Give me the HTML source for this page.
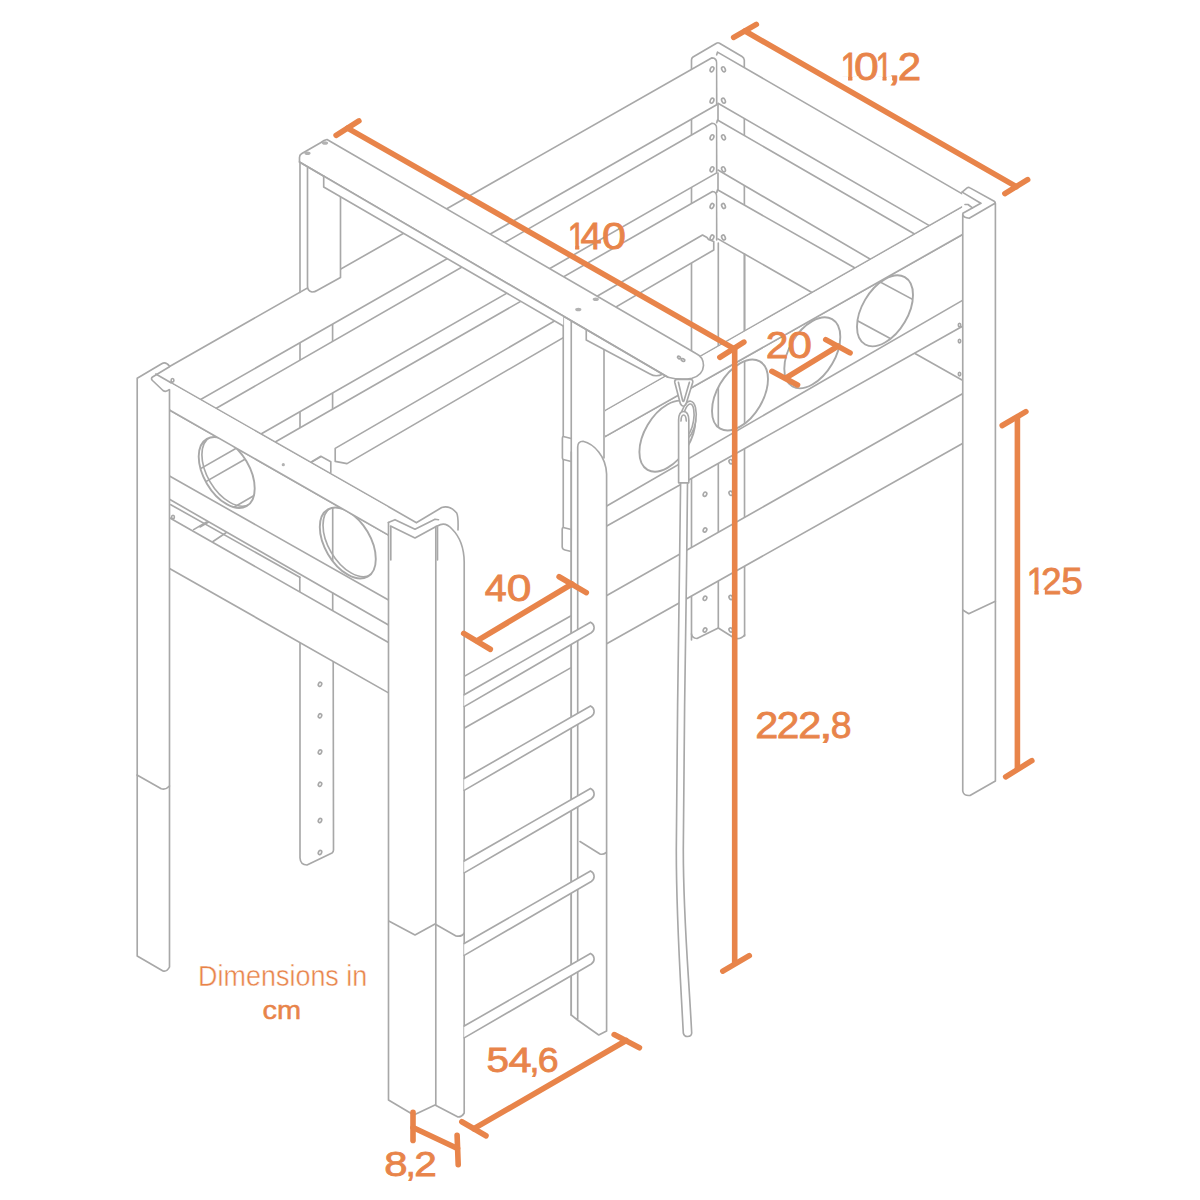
<!DOCTYPE html>
<html><head><meta charset="utf-8"><title>Dimensions</title>
<style>
html,body{margin:0;padding:0;background:#fff;}
body{width:1200px;height:1200px;overflow:hidden;font-family:"Liberation Sans",sans-serif;}
svg{display:block}
.g path,.g circle,.g ellipse{stroke:#a8a8a8;stroke-width:1.65;stroke-linecap:round;stroke-linejoin:round}
.g path:not([fill]),.g circle:not([fill]),.g ellipse:not([fill]){fill:none}
.o path{stroke:#e8844a;stroke-width:5.6;stroke-linecap:round;fill:none}
.t text{fill:#e8844a;font-family:"Liberation Sans",sans-serif;}
</style></head><body>
<svg width="1200" height="1200" viewBox="0 0 1200 1200">
<rect width="1200" height="1200" fill="#fff"/>
<g class="g">
<path d="M691.5 640L691.5 60Q691.5 58 693 57L716.5 43.2Q718 42.3 719.5 43.2L742 56.5Q744 57.7 744.3 60L744.6 636" fill="#fff"/>
<path d="M718 104L718 121"/>
<path d="M718 173L718 192"/>
<path d="M718.3 463.38L718.3 628"/>
<path d="M691.5 634Q692 638 697 638.5L718.3 628L735 638.5Q741 639.5 744.6 635"/>
<ellipse cx="705" cy="494.2" rx="1.7" ry="2.2" transform="rotate(25 705 494.2)" stroke-width="1.1"/>
<ellipse cx="705" cy="530" rx="1.7" ry="2.2" transform="rotate(25 705 530)" stroke-width="1.1"/>
<ellipse cx="705" cy="598.3" rx="1.7" ry="2.2" transform="rotate(25 705 598.3)" stroke-width="1.1"/>
<ellipse cx="705" cy="630" rx="1.7" ry="2.2" transform="rotate(25 705 630)" stroke-width="1.1"/>
<ellipse cx="730.8" cy="461.7" rx="1.7" ry="2.2" transform="rotate(-25 730.8 461.7)" stroke-width="1.1"/>
<ellipse cx="730.8" cy="493.3" rx="1.7" ry="2.2" transform="rotate(-25 730.8 493.3)" stroke-width="1.1"/>
<ellipse cx="730.8" cy="597.5" rx="1.7" ry="2.2" transform="rotate(-25 730.8 597.5)" stroke-width="1.1"/>
<ellipse cx="730.8" cy="630" rx="1.7" ry="2.2" transform="rotate(-25 730.8 630)" stroke-width="1.1"/>
<path d="M300 642.57L300 858Q300.5 865 307 865L332 853Q333.5 852 333.5 850L333.2 661.43" fill="#fff"/>
<path d="M300 342.72L300 360.19"/>
<path d="M332.6 324.11L332.6 341.44"/>
<path d="M300 411.66L300 427.73"/>
<path d="M332.6 392.98L332.6 409.06"/>
<ellipse cx="320" cy="684.3" rx="1.6" ry="2.1" transform="rotate(25 320 684.3)" stroke-width="1.1"/>
<ellipse cx="320" cy="715.8" rx="1.6" ry="2.1" transform="rotate(25 320 715.8)" stroke-width="1.1"/>
<ellipse cx="320" cy="752" rx="1.6" ry="2.1" transform="rotate(25 320 752)" stroke-width="1.1"/>
<ellipse cx="320" cy="784.3" rx="1.6" ry="2.1" transform="rotate(25 320 784.3)" stroke-width="1.1"/>
<ellipse cx="320" cy="820.5" rx="1.6" ry="2.1" transform="rotate(25 320 820.5)" stroke-width="1.1"/>
<ellipse cx="320" cy="852.5" rx="1.6" ry="2.1" transform="rotate(25 320 852.5)" stroke-width="1.1"/>
<path d="M170 366.22L712 57.82L716.7 61.82L716.7 104.78L170 416.95Z" style="fill:#fff;stroke:none"/>
<path d="M170 366.22L712 57.82Q716.7 58.12 716.7 62.82L716.7 104.78L170 416.95"/>
<path d="M215 409.06L712 123.3L716.7 127.3L716.7 172.89L215 460.37Z" style="fill:#fff;stroke:none"/>
<path d="M215 409.06L712 123.3Q716.7 123.6 716.7 128.3L716.7 172.89L215 460.37"/>
<path d="M270 444.91L712.5 191.5L716.7 195.5L716.7 243L270 486.28Z" style="fill:#fff;stroke:none"/>
<path d="M270 444.91L712.5 191.5Q716.7 191.8 716.7 196.5L716.7 240"/>
<path d="M335.2 448.4L702.5 235L713.75 241.5L713.75 250L347 463.6L335.2 461.4Z" style="fill:#fff;stroke:none"/>
<path d="M347 463.6L335.2 461.4L335.2 448.4L702.5 235L707 237.5L708.5 239.5L713.75 241.5L713.75 250L347 463.6"/>
<path d="M200 526.95L320.6 456.88"/>
<path d="M311.7 461.7L320.8 456.3L330.8 461.7L330.8 472.5"/>
<path d="M717.5 52.12L980.8 204.6L929.35 225.61L718 103.3Z" style="fill:#fff;stroke:none"/>
<path d="M716.7 54.83L717.5 52.12L980.8 204.6"/>
<path d="M929.35 225.61L718 103.3"/>
<path d="M717.5 120.01L914.57 234.04L870.4 259.23L718 170.08Z" style="fill:#fff;stroke:none"/>
<path d="M716.7 122.72L717.5 120.01L914.57 234.04"/>
<path d="M870.4 259.23L718 170.08"/>
<path d="M717.5 189.83L855.05 267.98L811.98 292.55L718 238.86Z" style="fill:#fff;stroke:none"/>
<path d="M716.7 192.55L717.5 189.83L855.05 267.98"/>
<path d="M811.98 292.55L718 238.86"/>
<path d="M744.6 254.05L744.6 330.98"/>
<path d="M718.3 243L718.3 346"/>
<ellipse cx="712" cy="69.3" rx="1.7" ry="2.6" transform="rotate(25 712 69.3)" stroke-width="1.1"/>
<ellipse cx="723.5" cy="69.3" rx="1.7" ry="2.6" transform="rotate(-25 723.5 69.3)" stroke-width="1.1"/>
<ellipse cx="712" cy="100.7" rx="1.7" ry="2.6" transform="rotate(25 712 100.7)" stroke-width="1.1"/>
<ellipse cx="723.5" cy="100.7" rx="1.7" ry="2.6" transform="rotate(-25 723.5 100.7)" stroke-width="1.1"/>
<ellipse cx="712" cy="137.3" rx="1.7" ry="2.6" transform="rotate(25 712 137.3)" stroke-width="1.1"/>
<ellipse cx="723.5" cy="137.3" rx="1.7" ry="2.6" transform="rotate(-25 723.5 137.3)" stroke-width="1.1"/>
<ellipse cx="712" cy="169.3" rx="1.7" ry="2.6" transform="rotate(25 712 169.3)" stroke-width="1.1"/>
<ellipse cx="723.5" cy="169.3" rx="1.7" ry="2.6" transform="rotate(-25 723.5 169.3)" stroke-width="1.1"/>
<ellipse cx="712" cy="206" rx="1.7" ry="2.6" transform="rotate(25 712 206)" stroke-width="1.1"/>
<ellipse cx="723.5" cy="206" rx="1.7" ry="2.6" transform="rotate(-25 723.5 206)" stroke-width="1.1"/>
<ellipse cx="712" cy="237.5" rx="1.7" ry="2.6" transform="rotate(25 712 237.5)" stroke-width="1.1"/>
<ellipse cx="723.5" cy="237.5" rx="1.7" ry="2.6" transform="rotate(-25 723.5 237.5)" stroke-width="1.1"/>
<path d="M915 353.5L962 380"/>
<path d="M300 292.5L300 160L307.5 166L307.5 286Q307.5 291 312 292Q315 292 317 290.5L340.5 277.5L340.5 197" fill="#fff"/>
<path d="M463.75 676.63L962.5 393.84L962.5 443.59L463.75 724.14Z" style="fill:#fff;stroke:none"/>
<path d="M463.75 676.63L962.5 393.84"/>
<path d="M600 647.5L962.5 443.59"/>
<path d="M463.75 728.53L572 667.12"/>
<path d="M605 410.6L965 205.27L962.5 326.25L605 527Z" style="fill:#fff;stroke:none"/>
<path d="M605 410.6L965 205.27"/>
<path d="M605 436.6L962.5 234.55"/>
<path d="M605 507L962.5 300.34"/>
<path d="M605 527L962.5 326.25"/>
<clipPath id="c1"><circle r="1" transform="matrix(28 -15.9 0 31.7 667.4 436.2)"/></clipPath>
<circle r="1" transform="matrix(28 -15.9 0 31.7 667.4 436.2)" style="fill:#fff;stroke:none"/>
<g clip-path="url(#c1)">
</g>
<circle r="1" transform="matrix(28 -15.9 0 31.7 667.4 436.2)" vector-effect="non-scaling-stroke" style="stroke-width:1.9"/>
<clipPath id="c2"><circle r="1" transform="matrix(28 -15.9 0 31.7 740 395)"/></clipPath>
<circle r="1" transform="matrix(28 -15.9 0 31.7 740 395)" style="fill:#fff;stroke:none"/>
<g clip-path="url(#c2)">
<path d="M718.3 330L718.3 470"/>
<path d="M744.6 330L744.6 470"/>
</g>
<circle r="1" transform="matrix(28 -15.9 0 31.7 740 395)" vector-effect="non-scaling-stroke" style="stroke-width:1.9"/>
<clipPath id="c3"><circle r="1" transform="matrix(28 -15.9 0 31.7 812.3 352.8)"/></clipPath>
<circle r="1" transform="matrix(28 -15.9 0 31.7 812.3 352.8)" style="fill:#fff;stroke:none"/>
<g clip-path="url(#c3)">
</g>
<circle r="1" transform="matrix(28 -15.9 0 31.7 812.3 352.8)" vector-effect="non-scaling-stroke" style="stroke-width:1.9"/>
<clipPath id="c4"><circle r="1" transform="matrix(28 -15.9 0 31.7 885 310.8)"/></clipPath>
<circle r="1" transform="matrix(28 -15.9 0 31.7 885 310.8)" style="fill:#fff;stroke:none"/>
<g clip-path="url(#c4)">
<path d="M850 265.8L918 302.3"/>
<path d="M845 314L900 343.7"/>
</g>
<circle r="1" transform="matrix(28 -15.9 0 31.7 885 310.8)" vector-effect="non-scaling-stroke" style="stroke-width:1.9"/>
<path d="M606 410.93L962 207.89L962 234.83L606 436.03Z" style="fill:#fff;stroke:none"/>
<path d="M605 436.6L962.5 234.55"/>
<path d="M155.8 374L415 521.8L388.5 535.11L388.5 625L169.5 499.3L169.5 387Z" style="fill:#fff;stroke:none"/>
<path d="M155.8 374L416.5 522.66"/>
<path d="M169.5 410L388.5 535.11"/>
<path d="M169.5 476L388.5 600"/>
<path d="M169.5 499.3L388.5 625"/>
<path d="M170.8 504.7L299.8 577.3"/>
<path d="M299.8 577.3L299.8 591.95"/>
<path d="M332.7 592.97L332.7 610.7"/>
<path d="M193.6 529.6L206.6 522"/>
<path d="M213 541.5L226 532.8"/>
<path d="M169.5 517.7L388.5 642.5L388.5 692.86L169.5 568.42Z" style="fill:#fff;stroke:none"/>
<path d="M169.5 517.7L388.5 642.5"/>
<path d="M169.5 568.42L388.5 692.86"/>
<ellipse cx="173" cy="517" rx="1.4" ry="1.8" transform="rotate(0 173 517)" stroke-width="1.1"/>
<ellipse cx="172.5" cy="380.3" rx="1.4" ry="1.8" transform="rotate(0 172.5 380.3)" stroke-width="1.1"/>
<ellipse cx="283.3" cy="464.7" rx="1.6" ry="1.6" style="fill:#b2b2b2;stroke:none"/>
<clipPath id="c5"><circle r="1" transform="matrix(28 15.9 0 31.7 226.7 472.5)"/></clipPath>
<circle r="1" transform="matrix(28 15.9 0 31.7 226.7 472.5)" style="fill:#fff;stroke:none"/>
<g clip-path="url(#c5)">
<path d="M190 474.69L260 434.58"/>
<path d="M190 490.72L260 450.63"/>
<path d="M190 532.76L260 492.09"/>
<circle r="1" transform="matrix(28 15.9 0 31.7 229.9 470.7)" vector-effect="non-scaling-stroke"/>
</g>
<circle r="1" transform="matrix(28 15.9 0 31.7 226.7 472.5)" vector-effect="non-scaling-stroke" style="stroke-width:1.9"/>
<clipPath id="c6"><circle r="1" transform="matrix(28 15.9 0 31.7 347.8 543)"/></clipPath>
<circle r="1" transform="matrix(28 15.9 0 31.7 347.8 543)" style="fill:#fff;stroke:none"/>
<g clip-path="url(#c6)">
<path d="M332.7 500L332.7 590"/>
<circle r="1" transform="matrix(28 15.9 0 31.7 351 541.2)" vector-effect="non-scaling-stroke"/>
</g>
<circle r="1" transform="matrix(28 15.9 0 31.7 347.8 543)" vector-effect="non-scaling-stroke" style="stroke-width:1.9"/>
<path d="M170.5 383.28L388 507.3L388 534.83L170.5 410.57Z" style="fill:#fff;stroke:none"/>
<path d="M169.5 410L388.5 535.11"/>
<ellipse cx="283.3" cy="464.7" rx="1.6" ry="1.6" style="fill:#b2b2b2;stroke:none"/>
<path d="M563.25 316.03L605 340.41L605 452L571.25 452L571.25 553L563.25 550Z" style="fill:#fff;stroke:none"/>
<path d="M563.25 316.03L563.25 436.5Q562.4 436.7 562.4 438L562.4 458Q562.5 459.3 563.25 459.5L563.25 527.5Q562.2 527.7 562.2 529L562.2 547Q562.5 549.5 565 550L571.25 551.5"/>
<path d="M563.25 459.5L571.25 461.5"/>
<path d="M563.25 436.5L571.25 438.5"/>
<path d="M563.25 527.5L571.25 529.5"/>
<path d="M571.25 320.7L571.25 1015"/>
<path d="M604 350L604 458"/>
<path d="M571.25 560L577.7 447L583 441.3L597 449L606.6 474L606.6 1031L598.75 1035L571.25 1015Z" style="fill:#fff;stroke:none"/>
<path d="M571.25 452L571.25 1015"/>
<path d="M571.25 1015L577.5 1020L598.75 1035L606.6 1031L606.6 474C606 456 594 444 583 441.3Q577.7 441.5 577.7 447L577.7 1020"/>
<path d="M580 841.5L600 854Q603 855 606.25 852.5"/>
<path d="M586.25 329.46L586.25 340L650 374Q656 377.5 663 374" fill="#fff"/>
<path d="M299.5 162L299.5 157.5Q299.5 155 301.5 153.8L321 142.5Q324 140 327 139.5L696 353.52Q703.5 357 703.5 365.5Q703 375 692 378.3Q680 380.5 668 377.2Z" fill="#fff"/>
<path d="M323.7 176.13L563.25 316.03L563.25 325.94L323.7 187Z" style="fill:#fff;stroke:none"/>
<path d="M323.7 176.13L323.7 187L563.25 325.94"/>
<path d="M299.5 162L668 377.2"/>
<ellipse cx="307.5" cy="153.2" rx="3.1" ry="1.8" style="fill:#b2b2b2;stroke:none"/>
<ellipse cx="325" cy="143" rx="3.1" ry="1.8" style="fill:#b2b2b2;stroke:none"/>
<ellipse cx="578.3" cy="309.5" rx="3.1" ry="1.8" style="fill:#b2b2b2;stroke:none"/>
<ellipse cx="595.8" cy="299.2" rx="3.1" ry="1.8" style="fill:#b2b2b2;stroke:none"/>
<ellipse cx="679" cy="357.5" rx="1.6" ry="1.1" transform="rotate(30 679 357.5)" stroke-width="1.1"/>
<ellipse cx="683" cy="360" rx="1.9" ry="1.2" transform="rotate(20 683 360)" stroke-width="1.1"/>
<path d="M137.2 378.3L161.7 363.8L169.5 366.3L169.5 967L163 971L137.2 956Z" style="fill:#fff;stroke:none"/>
<path d="M169.5 389.7L169.5 967Q167 972 163 971L137.2 956L137.2 378.3L161.7 363.8Q165.8 361.3 169.5 366.3"/>
<path d="M169.5 366.7L152.5 377Q150.5 378.5 152.5 380.5L163 390.5Q165.8 392.5 169.3 389.7"/>
<path d="M155.8 374L171 382.67"/>
<path d="M137 775L161.25 788.75Q166 790 169.5 786"/>
<path d="M388.3 522.5L395 519.7L415 529.2L441.7 507.5L456.7 513L464.2 553L464.2 1113L458 1117L435 1105L413.75 1115L388.5 1100Z" style="fill:#fff;stroke:none"/>
<path d="M388.3 522.5L395 519.7L415 529.2L435 519.2L438.5 519.7"/>
<path d="M390.5 526L415 538L437 526"/>
<path d="M416.7 522.5L441.7 507.5Q450 505 456.7 513Q458.5 517 458 530"/>
<path d="M437.5 526Q445 521 452 529Q464 541 464.2 562L464.2 1113Q462 1117 458 1117L435 1105L413.75 1115L388.5 1100L388.5 522.5"/>
<path d="M435.8 526.5L435.8 1105"/>
<path d="M390.8 526.5L390.8 560"/>
<path d="M437.5 527L437.5 560"/>
<path d="M388.75 921L415 935L435 924L456 936Q462 937 464.2 933"/>
<path d="M962.1 192.1L967.1 187.9L995.4 203L995.4 781L970 795.5L962.75 791Z" style="fill:#fff;stroke:none"/>
<path d="M962.1 192.1L967.1 187.9Q968.5 187 970 187.9L994.2 201.25Q995.4 202 995.4 203.5L995.4 781L970 795.5Q963.5 796 962.75 791L962.75 214.2Q963.5 218 969.2 218.3L994.6 203.5"/>
<path d="M962.1 192.1L980.8 203.3"/>
<path d="M980.8 203.3L962.9 213.3"/>
<path d="M965 204.5L968 204.5L972.5 207.8"/>
<path d="M962.75 610L968.75 613.75L995.4 601.25"/>
<ellipse cx="959.5" cy="325" rx="1.2" ry="1.8" transform="rotate(0 959.5 325)" stroke-width="1.1"/>
<ellipse cx="959.5" cy="341" rx="1.2" ry="1.8" transform="rotate(0 959.5 341)" stroke-width="1.1"/>
<ellipse cx="959.5" cy="374" rx="1.2" ry="1.8" transform="rotate(0 959.5 374)" stroke-width="1.1"/>
<path d="M464.2 694.82L590.5 622.2A5.6 5.9 0 0 1 591.3 632.8L464.2 706.62" fill="#fff"/>
<path d="M464.2 778.57L590.5 705.95A5.6 5.9 0 0 1 591.3 716.55L464.2 790.37" fill="#fff"/>
<path d="M464.2 861.07L590.5 788.45A5.6 5.9 0 0 1 591.3 799.05L464.2 872.87" fill="#fff"/>
<path d="M464.2 943.57L590.5 870.95A5.6 5.9 0 0 1 591.3 881.55L464.2 955.37" fill="#fff"/>
<path d="M464.2 1026.07L590.5 953.45A5.6 5.9 0 0 1 591.3 964.05L464.2 1037.87" fill="#fff"/>
</g>
<g class="g">
<path d="M680.6 483L679.6 560C678.5 650 676.5 760 676.3 850C676.3 920 680 970 683.3 1033Q684 1036.5 687.5 1036.5Q691.5 1036.5 691.7 1033C688.5 970 683.3 920 683.3 850C683.5 760 685.5 650 686.7 560L687.5 483" fill="#fff"/>
<ellipse cx="687.8" cy="420" rx="8" ry="19" transform="rotate(9 687.8 420)" fill="#fff"/>
<ellipse cx="688" cy="420" rx="5.6" ry="16.2" transform="rotate(9 688 420)"/>
<path d="M678.6 482.8L678.6 420Q678.8 411.5 683.5 411.5Q688.6 411.5 688.8 420L688.8 482.8Z" fill="#fff"/>
<path d="M681 421Q681.2 415 683.6 415Q686 415 686.3 421"/>
<path d="M676.5 379.4Q674.3 380 674.8 382.5L680.3 403.5Q683.2 409 686.2 403.5L692.7 382.5Q693.2 379.6 691 379.4Z" fill="#fff"/>
<path d="M678.4 382.3L682.6 400.5Q683.3 402.5 684.1 400.5L689.4 382.3"/>
</g>
<g class="o">
<path d="M733.68 37.36L756.32 24.39"/>
<path d="M1004.89 193.54L1027.61 179.71"/>
<path d="M745 31L1016.3 186.6"/>
<path d="M336.12 135.26L358.88 120.99"/>
<path d="M719.87 357.26L743.88 342.09"/>
<path d="M347.5 128.1L733.9 348.6"/>
<path d="M734.7 348.6L734.7 963"/>
<path d="M722.82 971.09L749.28 955.61"/>
<path d="M1017.4 418.5L1017.4 768"/>
<path d="M1002.22 425.48L1025.88 411.62"/>
<path d="M1005.68 776.83L1031.82 760.67"/>
<path d="M771.87 371.31L797.53 384.94"/>
<path d="M825.76 339.64L850.04 352.86"/>
<path d="M785.6 378.1L838 346.2"/>
<path d="M463.71 633.43L490.29 649.27"/>
<path d="M559.12 576.71L586.28 592.59"/>
<path d="M477.3 640.7L572 584"/>
<path d="M461.82 1121.71L485.98 1135.79"/>
<path d="M614.18 1034.59L639.42 1047.71"/>
<path d="M473.9 1128.7L626.2 1040.5"/>
<path d="M413 1112.2L413 1140.4"/>
<path d="M457.1 1135.2L458.2 1164.6"/>
<path d="M413 1127.5L457.5 1148.5"/>
</g>
<clipPath id="feet"><path clip-rule="evenodd" d="M0 0H1200V1200H0ZM841.65 76.16H848.10V82.60H841.65ZM852.35 76.16H858.54V82.60H852.35ZM876.65 76.16H882.54V82.60H876.65ZM886.50 76.16H892.15V82.60H886.50ZM568.90 244.56H575.12V251.00H568.90ZM579.25 244.56H585.21V251.00H579.25ZM1027.90 589.48H1034.38V595.80H1027.90ZM1038.65 589.48H1044.87V595.80H1038.65Z"/></clipPath>
<g class="t">
<text y="80.40" font-size="37.88" stroke="#e8844a" stroke-width="0.8" clip-path="url(#feet)"><tspan x="840.43" textLength="18.43" lengthAdjust="spacingAndGlyphs">1</tspan><tspan x="854.06" textLength="24.78" lengthAdjust="spacingAndGlyphs">0</tspan><tspan x="875.68" textLength="16.64" lengthAdjust="spacingAndGlyphs">1</tspan><tspan x="887.01" textLength="14.32" lengthAdjust="spacingAndGlyphs">,</tspan><tspan x="897.89" textLength="23.42" lengthAdjust="spacingAndGlyphs">2</tspan></text>
<text y="248.80" font-size="37.81" stroke="#e8844a" stroke-width="0.8" clip-path="url(#feet)"><tspan x="567.78" textLength="17.70" lengthAdjust="spacingAndGlyphs">1</tspan><tspan x="580.52" textLength="21.19" lengthAdjust="spacingAndGlyphs">4</tspan><tspan x="602.02" textLength="23.97" lengthAdjust="spacingAndGlyphs">0</tspan></text>
<text y="357.70" font-size="37.59" stroke="#e8844a" stroke-width="0.8" clip-path="url(#feet)"><tspan x="765.86" textLength="22.69" lengthAdjust="spacingAndGlyphs">2</tspan><tspan x="787.43" textLength="24.49" lengthAdjust="spacingAndGlyphs">0</tspan></text>
<text y="600.90" font-size="37.23" stroke="#e8844a" stroke-width="0.8" clip-path="url(#feet)"><tspan x="484.79" textLength="21.96" lengthAdjust="spacingAndGlyphs">4</tspan><tspan x="506.67" textLength="24.67" lengthAdjust="spacingAndGlyphs">0</tspan></text>
<text y="737.60" font-size="37.81" stroke="#e8844a" stroke-width="0.8" clip-path="url(#feet)"><tspan x="755.23" textLength="23.05" lengthAdjust="spacingAndGlyphs">2</tspan><tspan x="776.77" textLength="22.56" lengthAdjust="spacingAndGlyphs">2</tspan><tspan x="798.33" textLength="23.05" lengthAdjust="spacingAndGlyphs">2</tspan><tspan x="819.38" textLength="13.32" lengthAdjust="spacingAndGlyphs">,</tspan><tspan x="830.79" textLength="20.83" lengthAdjust="spacingAndGlyphs">8</tspan></text>
<text y="593.60" font-size="36.22" stroke="#e8844a" stroke-width="0.8" clip-path="url(#feet)"><tspan x="1026.67" textLength="18.54" lengthAdjust="spacingAndGlyphs">1</tspan><tspan x="1041.05" textLength="20.61" lengthAdjust="spacingAndGlyphs">2</tspan><tspan x="1061.15" textLength="21.59" lengthAdjust="spacingAndGlyphs">5</tspan></text>
<text y="1071.60" font-size="35.50" stroke="#e8844a" stroke-width="0.8" clip-path="url(#feet)"><tspan x="486.48" textLength="22.53" lengthAdjust="spacingAndGlyphs">5</tspan><tspan x="508.45" textLength="23.06" lengthAdjust="spacingAndGlyphs">4</tspan><tspan x="529.59" textLength="9.92" lengthAdjust="spacingAndGlyphs">,</tspan><tspan x="537.69" textLength="20.87" lengthAdjust="spacingAndGlyphs">6</tspan></text>
<text y="1176.20" font-size="34.78" stroke="#e8844a" stroke-width="0.8" clip-path="url(#feet)"><tspan x="384.30" textLength="23.31" lengthAdjust="spacingAndGlyphs">8</tspan><tspan x="405.89" textLength="9.92" lengthAdjust="spacingAndGlyphs">,</tspan><tspan x="414.27" textLength="22.56" lengthAdjust="spacingAndGlyphs">2</tspan></text>
<text x="198.1" y="985.8" font-size="29.4" textLength="169.2" lengthAdjust="spacingAndGlyphs" stroke="#fff" stroke-width="0.45">Dimensions in</text>
<text x="262.6" y="1018.6" font-size="26.5" textLength="38.6" lengthAdjust="spacingAndGlyphs" stroke="#e8844a" stroke-width="0.5">cm</text>
</g>
</svg>
</body></html>
